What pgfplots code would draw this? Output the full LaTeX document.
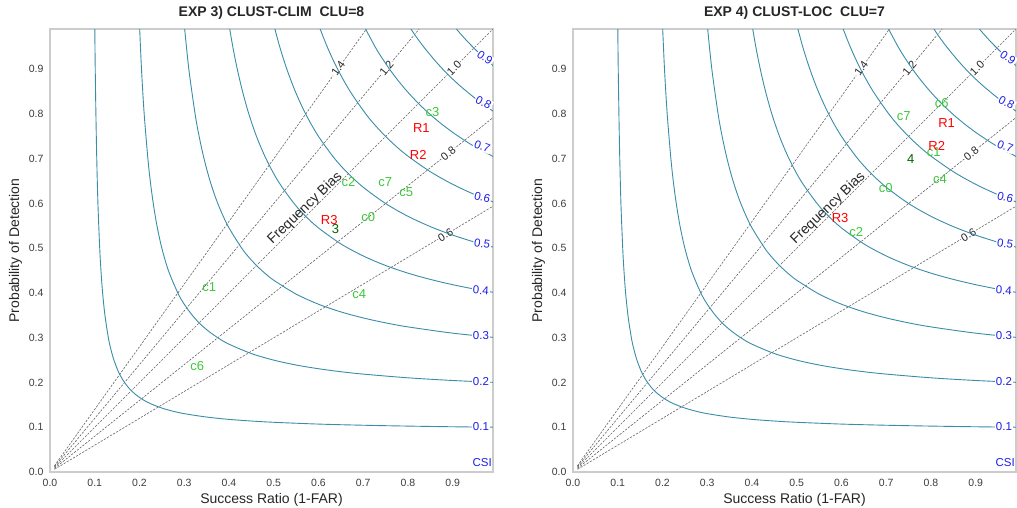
\documentclass[border=0pt]{standalone}
\usepackage{fontspec}
\setmainfont{Liberation Sans}
\usepackage{pgfplots}
\pgfplotsset{compat=1.18}
\definecolor{csiLine}{RGB}{58,140,168}
\definecolor{csiText}{RGB}{30,30,235}
\definecolor{cluGreen}{RGB}{60,200,60}
\definecolor{numGreen}{RGB}{0,100,0}
\definecolor{biasLine}{RGB}{100,100,100}
\definecolor{axisGray}{RGB}{204,204,204}
\definecolor{tickText}{RGB}{60,60,60}

\pgfplotsset{
  perf/.style={
    scale only axis, width=443pt, height=443pt,
    xmin=0, xmax=0.99, ymin=0, ymax=0.99,
    xtick={0,0.1,0.2,0.3,0.4,0.5,0.6,0.7,0.8,0.9},
    ytick={0,0.1,0.2,0.3,0.4,0.5,0.6,0.7,0.8,0.9},
    /pgf/number format/fixed, /pgf/number format/fixed zerofill,
    /pgf/number format/precision=1,
    /pgf/number format/assume math mode=true,
    major tick length=0pt, tick style={draw=none},
    axis line style={draw=axisGray, line width=1.2pt},
    ticklabel style={font=\fontsize{10.5}{12}\selectfont, text=tickText},
    xticklabel style={yshift=-4pt},
    yticklabel style={xshift=-3pt},
    label style={font=\fontsize{14}{16}\selectfont, text=black!85},
    title style={font=\bfseries\fontsize{14}{16}\selectfont, text=black!85},
    xlabel={Success Ratio (1-FAR)},
    ylabel={Probability of Detection},
    clip mode=individual,
  },
  biasln/.style={biasLine, line width=0.6pt, dash pattern=on 2.2pt off 1.4pt, forget plot},
  csiln/.style={csiLine, line width=0.9pt, smooth, forget plot},
  txt/.style={only marks, mark=none, forget plot, nodes near coords,
    point meta=explicit symbolic,
    nodes near coords style={anchor=center, inner sep=0pt, font=\fontsize{13}{15}\selectfont, text=#1}},
}
\tikzset{
  biaslbl/.style={fill=white, inner sep=1pt, text=black!85, font=\fontsize{11}{13}\selectfont},
  csilbl/.style={fill=white, inner sep=1pt, text=csiText, font=\fontsize{11.5}{13}\selectfont},
}

% background: frequency bias lines and CSI contours
\newcommand{\perfbg}{%
  \addplot[biasln] coordinates {(0.01,0.014)(0.7143,1.0)};
  \addplot[biasln] coordinates {(0.01,0.012)(0.8333,1.0)};
  \addplot[biasln] coordinates {(0.01,0.010)(1.0,1.0)};
  \addplot[biasln] coordinates {(0.01,0.008)(1.0,0.8)};
  \addplot[biasln] coordinates {(0.01,0.006)(1.0,0.6)};
  \node[biaslbl, rotate=54.5] at (axis cs:0.644,0.902) {1.4};
  \node[biaslbl, rotate=50.2] at (axis cs:0.752,0.902) {1.2};
  \node[biaslbl, rotate=45] at (axis cs:0.903,0.903) {1.0};
  \node[biaslbl, rotate=38.7] at (axis cs:0.890,0.712) {0.8};
  \node[biaslbl, rotate=31] at (axis cs:0.884,0.530) {0.6};
  % CSI = 0.1 ... 0.9
  \addplot[csiln] coordinates {(0.1000,1.0)(0.1011,0.9)(0.1026,0.8)(0.1045,0.7)(0.1071,0.6)(0.1111,0.5)(0.1139,0.45)(0.1176,0.4)(0.1228,0.35)(0.1304,0.3)(0.1358,0.275)(0.1429,0.25)(0.1525,0.225)(0.1603,0.21)(0.1667,0.2)(0.1743,0.19)(0.1818,0.1818)(0.19,0.1743)(0.2,0.1667)(0.21,0.1603)(0.225,0.1525)(0.25,0.1429)(0.275,0.1358)(0.3,0.1304)(0.35,0.1228)(0.4,0.1176)(0.45,0.1139)(0.5,0.1111)(0.6,0.1071)(0.7,0.1045)(0.8,0.1026)(0.9,0.1011)(1.0,0.1000)};
  \addplot[csiln] coordinates {(0.2000,1.0)(0.2045,0.9)(0.2105,0.8)(0.2188,0.7)(0.2241,0.65)(0.2308,0.6)(0.2391,0.55)(0.2500,0.5)(0.2647,0.45)(0.2857,0.4)(0.3000,0.375)(0.3182,0.35)(0.3333,0.3333)(0.35,0.3182)(0.375,0.3000)(0.4,0.2857)(0.45,0.2647)(0.5,0.2500)(0.55,0.2391)(0.6,0.2308)(0.65,0.2241)(0.7,0.2188)(0.8,0.2105)(0.9,0.2045)(1.0,0.2000)};
  \addplot[csiln] coordinates {(0.3000,1.0)(0.3103,0.9)(0.3243,0.8)(0.3333,0.75)(0.3443,0.7)(0.3578,0.65)(0.3750,0.6)(0.3976,0.55)(0.4286,0.5)(0.4444,0.48)(0.4615,0.4615)(0.48,0.4444)(0.5,0.4286)(0.55,0.3976)(0.6,0.3750)(0.65,0.3578)(0.7,0.3443)(0.75,0.3333)(0.8,0.3243)(0.9,0.3103)(1.0,0.3000)};
  \addplot[csiln] coordinates {(0.4000,1.0)(0.4086,0.95)(0.4186,0.9)(0.4304,0.85)(0.4444,0.8)(0.4615,0.75)(0.4828,0.7)(0.5098,0.65)(0.5455,0.6)(0.5714,0.5714)(0.6,0.5455)(0.65,0.5098)(0.7,0.4828)(0.75,0.4615)(0.8,0.4444)(0.85,0.4304)(0.9,0.4186)(0.95,0.4086)(1.0,0.4000)};
  \addplot[csiln] coordinates {(0.5000,1.0)(0.5135,0.95)(0.5294,0.9)(0.5484,0.85)(0.5714,0.8)(0.6000,0.75)(0.6364,0.7)(0.6667,0.6667)(0.7,0.6364)(0.75,0.6000)(0.8,0.5714)(0.85,0.5484)(0.9,0.5294)(0.95,0.5135)(1.0,0.5000)};
  \addplot[csiln] coordinates {(0.6000,1.0)(0.6196,0.95)(0.6429,0.9)(0.6711,0.85)(0.7059,0.8)(0.7265,0.775)(0.75,0.75)(0.775,0.7265)(0.8,0.7059)(0.85,0.6711)(0.9,0.6429)(0.95,0.6196)(1.0,0.6000)};
  \addplot[csiln] coordinates {(0.7000,1.0)(0.7267,0.95)(0.7421,0.925)(0.7590,0.9)(0.7778,0.875)(0.7987,0.85)(0.8235,0.8235)(0.85,0.7987)(0.875,0.7778)(0.9,0.7590)(0.925,0.7421)(0.95,0.7267)(1.0,0.7000)};
  \addplot[csiln] coordinates {(0.8000,1.0)(0.8167,0.975)(0.8352,0.95)(0.8599,0.92)(0.8780,0.9)(0.8889,0.8889)(0.9,0.8780)(0.92,0.8599)(0.95,0.8352)(0.975,0.8167)(1.0,0.8000)};
  \addplot[csiln] coordinates {(0.9000,1.0)(0.9125,0.985)(0.9257,0.97)(0.9350,0.96)(0.9474,0.9474)(0.96,0.9350)(0.97,0.9257)(0.985,0.9125)(1.0,0.9000)};
  \node[csilbl, rotate=-36] at (axis cs:0.972,0.926) {0.9};
  \node[csilbl, rotate=-28] at (axis cs:0.969,0.826) {0.8};
  \node[csilbl, rotate=-21] at (axis cs:0.966,0.728) {0.7};
  \node[csilbl, rotate=-14] at (axis cs:0.966,0.614) {0.6};
  \node[csilbl, rotate=-9] at (axis cs:0.966,0.511) {0.5};
  \node[csilbl, rotate=-4] at (axis cs:0.963,0.406) {0.4};
  \node[csilbl] at (axis cs:0.963,0.304) {0.3};
  \node[csilbl] at (axis cs:0.963,0.203) {0.2};
  \node[csilbl] at (axis cs:0.963,0.101) {0.1};
  \node[csilbl, fill=none] at (axis cs:0.966,0.022) {CSI};
  \node[rotate=44, text=black!85, font=\fontsize{14}{16}\selectfont] at (axis cs:0.570,0.589) {Frequency Bias};
}

\begin{document}
\begin{tikzpicture}[x=1pt,y=1pt]
\path[use as bounding box] (0,0) rectangle (1017,507);

\begin{axis}[perf, at={(50pt,35pt)}, anchor=south west,
  title={EXP 3) CLUST-CLIM\ \ CLU=8}]
  \perfbg
  \addplot[txt=cluGreen] coordinates {
    (0.855,0.804)[c3] (0.667,0.647)[c2] (0.749,0.647)[c7] (0.796,0.625)[c5]
    (0.711,0.569)[c0] (0.356,0.413)[c1] (0.691,0.397)[c4] (0.329,0.237)[c6]};
  \addplot[txt=red] coordinates {
    (0.830,0.768)[R1] (0.823,0.708)[R2] (0.624,0.563)[R3]};
  \addplot[txt=numGreen] coordinates {(0.638,0.542)[3]};
\end{axis}

\begin{axis}[perf, at={(573pt,35pt)}, anchor=south west,
  title={EXP 4) CLUST-LOC\ \ CLU=7}]
  \perfbg
  \addplot[txt=cluGreen] coordinates {
    (0.824,0.824)[c6] (0.739,0.795)[c7] (0.806,0.714)[c1] (0.820,0.654)[c4]
    (0.699,0.634)[c0] (0.633,0.536)[c2]};
  \addplot[txt=red] coordinates {
    (0.835,0.781)[R1] (0.813,0.728)[R2] (0.597,0.567)[R3]};
  \addplot[txt=numGreen] coordinates {(0.755,0.699)[4]};
\end{axis}
\end{tikzpicture}
\end{document}
